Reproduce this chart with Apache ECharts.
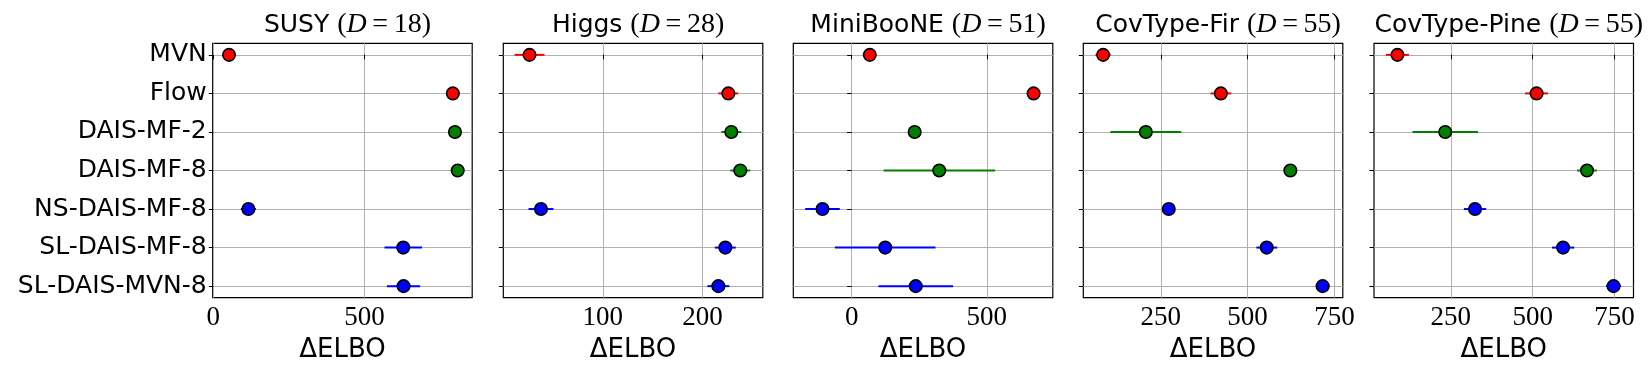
<!DOCTYPE html>
<html>
<head>
<meta charset="utf-8">
<script src="https://cdn.jsdelivr.net/npm/echarts@6/dist/echarts.min.js"></script>
<style>
  html, body { margin: 0; padding: 0; background: #fff; }
  #main { width: 1652px; height: 378px; }
</style>
</head>
<body>
<div id="main"></div>
<script>
// methods, top to bottom
const methods = ["MVN", "Flow", "DAIS-MF-2", "DAIS-MF-8", "NS-DAIS-MF-8", "SL-DAIS-MF-8", "SL-DAIS-MVN-8"];
const methodColors = ["#ff0000", "#ff0000", "#008000", "#008000", "#0000ff", "#0000ff", "#0000ff"];

// ΔELBO mean and half-width of error bar, per dataset
const susyMean = [52, 792, 799, 808, 116, 628, 629];
const susyErr = [4, 3, 3, 3, 25, 62, 55];
const higgsMean = [26.5, 226, 229, 238, 38, 223, 216];
const higgsErr = [15, 10, 10, 10, 12.5, 10.5, 11];
const minibooneMean = [67, 673, 233, 324, -108, 124, 237];
const minibooneErr = [4, 4, 4, 206, 64, 186, 138];
const firMean = [84, 423, 207, 623, 273, 555, 716];
const firErr = [22, 30, 102, 5, 5, 30, 20];
const pineMean = [87, 512, 233, 666, 324, 593, 747];
const pineErr = [35, 35, 100, 30, 34, 34, 23];

// panel titles and x tick labels
const titleNames = ["SUSY", "Higgs", "MiniBooNE", "CovType-Fir", "CovType-Pine"];
const titleDims = ["18", "28", "51", "55", "55"];
const xTicks = [[0, 500], [100, 200], [0, 500], [250, 500, 750], [250, 500, 750]];
const xRanges = [[-2, 856], [0.2, 260.6], [-216, 744], [27, 774], [15.5, 808]];

const means = [susyMean, higgsMean, minibooneMean, firMean, pineMean];
const errs = [susyErr, higgsErr, minibooneErr, firErr, pineErr];

const chart = echarts.init(document.getElementById("main"));

const gridLefts = [212.7, 503.3, 793.3, 1083.3, 1374];
const gridWidth = 259.5;
const sans = "DejaVu Sans";
const serif = "Liberation Serif";

let grids = [], xAxes = [], yAxes = [], series = [], titles = [];

for (let p = 0; p < 5; p++) {
  grids.push({
    left: gridLefts[p],
    width: gridWidth,
    top: 43.3,
    height: 254.4,
    show: true,
    borderColor: "#000",
    borderWidth: 1.2,
    backgroundColor: "transparent"
  });
  xAxes.push({
    type: "value",
    gridIndex: p,
    min: xRanges[p][0],
    max: xRanges[p][1],
    name: "ΔELBO",
    nameLocation: "middle",
    nameGap: 40,
    nameTextStyle: { fontFamily: sans, fontSize: 26, color: "#000" },
    axisLine: { show: false },
    axisTick: {
      show: true,
      inside: false,
      length: 4.5,
      lineStyle: { color: "#000", width: 1 },
      customValues: xTicks[p]
    },
    axisLabel: {
      customValues: xTicks[p],
      fontFamily: serif,
      fontSize: 27,
      color: "#000",
      margin: 7,
      formatter: function (v) { return String(v); }
    },
    splitLine: { show: true, lineStyle: { color: "#b0b0b0", width: 1 } }
  });
  yAxes.push({
    type: "value",
    gridIndex: p,
    inverse: true,
    min: -0.3,
    max: 6.3,
    axisLine: { show: false },
    axisTick: {
      show: true,
      length: 4.5,
      lineStyle: { color: "#000", width: 1 },
      customValues: [0, 1, 2, 3, 4, 5, 6]
    },
    axisLabel: {
      show: p === 0,
      customValues: [0, 1, 2, 3, 4, 5, 6],
      fontFamily: sans,
      fontSize: 25,
      color: "#000",
      margin: 6,
      formatter: function (v) { return methods[Math.round(v)]; }
    },
    splitLine: { show: true, lineStyle: { color: "#b0b0b0", width: 1 } }
  });

  const barData = means[p].map(function (m, i) {
    return [m - errs[p][i], m + errs[p][i], i];
  });
  series.push({
    type: "custom",
    xAxisIndex: p,
    yAxisIndex: p,
    z: 2,
    data: barData,
    encode: { x: [0, 1], y: 2 },
    renderItem: function (params, api) {
      const a = api.coord([api.value(0), api.value(2)]);
      const b = api.coord([api.value(1), api.value(2)]);
      return {
        type: "line",
        shape: { x1: a[0], y1: a[1], x2: b[0], y2: b[1] },
        style: { stroke: methodColors[params.dataIndex], lineWidth: 2 }
      };
    }
  });
  series.push({
    type: "scatter",
    xAxisIndex: p,
    yAxisIndex: p,
    z: 3,
    symbol: "circle",
    symbolSize: 12.5,
    data: means[p].map(function (m, i) {
      return {
        value: [m, i],
        itemStyle: { color: methodColors[i], opacity: 1, borderColor: "#000", borderWidth: 1.6 }
      };
    })
  });

  titles.push({
    left: gridLefts[p] + gridWidth / 2,
    top: 6,
    textAlign: "center",
    text: "{s|" + titleNames[p] + " }{m|(}{i|D}{m|\u2009=\u2009" + titleDims[p] + ")}",
    textStyle: {
      rich: {
        s: { fontFamily: sans, fontSize: 25, fontWeight: "normal", color: "#000" },
        m: { fontFamily: serif, fontSize: 28, fontWeight: "normal", color: "#000" },
        i: { fontFamily: serif, fontSize: 28, fontWeight: "normal", fontStyle: "italic", color: "#000" }
      }
    }
  });
}

chart.setOption({
  animation: false,
  backgroundColor: "#fff",
  title: titles,
  grid: grids,
  xAxis: xAxes,
  yAxis: yAxes,
  series: series
});
</script>
</body>
</html>
